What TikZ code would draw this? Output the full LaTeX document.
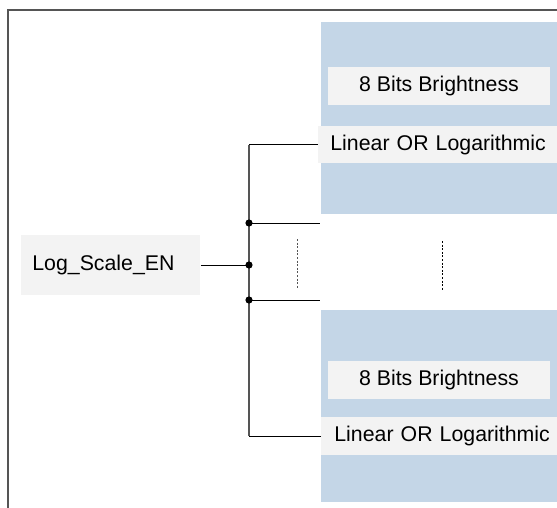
\documentclass[tikz,border=0pt]{standalone}
\usepackage{fontspec}
\setmainfont{Liberation Sans}
\definecolor{regblue}{RGB}{196,214,231}
\definecolor{fieldgray}{RGB}{243,243,243}
\definecolor{busgray}{RGB}{85,85,85}

\begin{document}
\begin{tikzpicture}[x=0.5pt,y=-0.5pt,
                    every node/.style={font=\fontsize{10.65}{12}\selectfont},
                    reg/.style={fill=regblue,anchor=north west,minimum width=130pt,minimum height=96pt,inner sep=0pt},
                    field/.style={fill=fieldgray,inner sep=0pt},
                    wire/.style={draw=black,line width=0.5pt},
                    bus/.style={draw=busgray,line width=0.7pt},
                    junction/.style={circle,fill=black,inner sep=0pt,minimum size=3.6pt}]

  \clip (0,0) rectangle (557,508);
  \draw[busgray,line width=0.7pt] (8,10) rectangle (620,620);

  \node[reg] (r1) at (321,22) {};
  \node[reg] (r2) at (321,310) {};

  \node[field,minimum width=111pt,minimum height=19pt] (b1) at (439,86) {8 Bits Brightness};
  \node[field,minimum width=111pt,minimum height=19pt] (b2) at (439,380) {8 Bits Brightness};

  \node[field,anchor=west,inner xsep=6pt,text width=120pt,align=left,minimum height=18.5pt] (l1) at (318,145) {Linear OR Logarithmic};
  \node[field,anchor=west,inner xsep=6.5pt,text width=120pt,align=left,minimum height=19pt] (l2) at (321,436) {Linear OR Logarithmic};

  \node[field,anchor=west,inner xsep=5.5pt,text width=78.5pt,align=left,minimum height=30pt] (log) at (21,265) {Log\_Scale\_EN};

  \coordinate (j1) at (249,223);
  \coordinate (j2) at (249,265);
  \coordinate (j3) at (249,300);
  \coordinate (e1) at (320,223);
  \coordinate (e3) at (320,300);

  % bus
  \draw[bus] (l1.west -| j2) -- (l2.west -| j2);
  \draw[wire] (l1.west) -- (l1.west -| j2);
  \draw[wire] (l2.west) -- (l2.west -| j2);
  \draw[wire] (log.east) -- (j2);
  \draw[wire] (j1) -- (e1);
  \draw[wire] (j3) -- (e3);
  \foreach \j in {j1,j2,j3}
    \node[junction] at (\j) {};

  % skipped registers
  \draw[busgray,line width=0.5pt,dash pattern=on 1pt off 0.8pt] (297,239) -- (297,289);
  \draw[black,line width=0.5pt,dash pattern=on 1pt off 0.8pt] (442,241) -- (442,291);
\end{tikzpicture}
\end{document}
